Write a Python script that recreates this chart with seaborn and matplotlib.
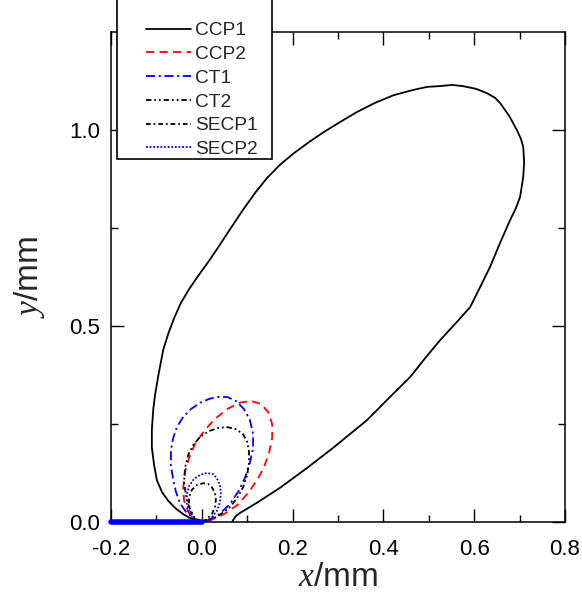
import numpy as np
import pandas as pd
import matplotlib
matplotlib.use("Agg")
import matplotlib.pyplot as plt
from matplotlib.lines import Line2D
from matplotlib.legend_handler import HandlerLine2D
import seaborn as sns

# ---- data ----
ccp1_x = [0.0, -0.013, -0.026, -0.041, -0.059, -0.074, -0.088, -0.099, -0.105, -0.110, -0.110,
          -0.107, -0.103, -0.096, -0.085, -0.074, -0.061, -0.046, -0.028, -0.008, 0.014, 0.038,
          0.064, 0.090, 0.117, 0.144, 0.172, 0.203, 0.236, 0.269, 0.304, 0.342, 0.381, 0.423,
          0.465, 0.496, 0.525, 0.551, 0.575, 0.604, 0.628, 0.646, 0.657, 0.677, 0.694, 0.703,
          0.708, 0.710, 0.708, 0.701, 0.692, 0.679, 0.657, 0.635, 0.613, 0.591, 0.560, 0.525,
          0.492, 0.459, 0.412, 0.364, 0.326, 0.289, 0.232, 0.172, 0.124, 0.084, 0.075, 0.069,
          0.067]
ccp1_y = [0.0, 0.005, 0.010, 0.020, 0.036, 0.054, 0.077, 0.107, 0.145, 0.189, 0.235,
          0.286, 0.324, 0.372, 0.439, 0.480, 0.520, 0.559, 0.594, 0.628, 0.663, 0.704,
          0.750, 0.795, 0.839, 0.878, 0.911, 0.941, 0.969, 0.995, 1.020, 1.046, 1.069, 1.089,
          1.102, 1.110, 1.112, 1.115, 1.112, 1.105, 1.094, 1.082, 1.069, 1.036, 1.000, 0.977,
          0.957, 0.918, 0.880, 0.829, 0.801, 0.770, 0.712, 0.651, 0.599, 0.548, 0.508, 0.464,
          0.418, 0.370, 0.316, 0.260, 0.224, 0.189, 0.138, 0.087, 0.051, 0.023, 0.015, 0.005,
          0.0]

ccp2_x = [0.0, -0.017, -0.030, -0.039, -0.041, -0.037, -0.028, -0.015, 0.005, 0.029, 0.056,
          0.082, 0.108, 0.130, 0.146, 0.155, 0.155, 0.148, 0.137, 0.122, 0.102, 0.078, 0.049,
          0.020, 0.003]
ccp2_y = [0.0, 0.008, 0.026, 0.054, 0.087, 0.128, 0.163, 0.199, 0.232, 0.263, 0.288,
          0.304, 0.309, 0.301, 0.281, 0.250, 0.214, 0.176, 0.140, 0.107, 0.074, 0.043, 0.020,
          0.005, 0.0]

ct1_x = [0.0, -0.019, -0.035, -0.048, -0.057, -0.063, -0.068, -0.068, -0.063, -0.055, -0.041,
         -0.024, -0.004, 0.016, 0.036, 0.056, 0.075, 0.093, 0.106, 0.113, 0.113, 0.106, 0.095,
         0.080, 0.060, 0.036, 0.014, 0.002]
ct1_y = [0.0, 0.010, 0.026, 0.048, 0.077, 0.107, 0.145, 0.184, 0.214, 0.242, 0.268,
         0.288, 0.304, 0.314, 0.319, 0.319, 0.309, 0.288, 0.260, 0.224, 0.189, 0.151, 0.112,
         0.077, 0.043, 0.018, 0.005, 0.0]

ct2_x = [0.0, -0.017, -0.028, -0.035, -0.039, -0.037, -0.030, -0.019, -0.004, 0.016, 0.036,
         0.056, 0.075, 0.091, 0.100, 0.104, 0.104, 0.100, 0.091, 0.078, 0.060, 0.036, 0.014, 0.0]
ct2_y = [0.0, 0.013, 0.038, 0.069, 0.102, 0.138, 0.171, 0.196, 0.217, 0.232, 0.240,
         0.242, 0.237, 0.224, 0.204, 0.179, 0.151, 0.120, 0.089, 0.061, 0.036, 0.015, 0.003, 0.0]

secp1_x = [0.0, -0.015, -0.024, -0.028, -0.028, -0.022, -0.011, 0.003, 0.014, 0.022, 0.029,
           0.031, 0.029, 0.022, 0.011, 0.0]
secp1_y = [0.0, 0.008, 0.023, 0.043, 0.064, 0.082, 0.094, 0.099, 0.097, 0.089, 0.074,
           0.056, 0.038, 0.020, 0.008, 0.0]

secp2_x = [0.0, -0.017, -0.028, -0.033, -0.033, -0.028, -0.017, -0.004, 0.011, 0.025, 0.033,
           0.040, 0.042, 0.040, 0.033, 0.020, 0.005, 0.0]
secp2_y = [0.0, 0.005, 0.023, 0.048, 0.071, 0.092, 0.110, 0.120, 0.125, 0.122, 0.112,
           0.094, 0.074, 0.051, 0.028, 0.010, 0.003, 0.0]

crack_x = [-0.2, 0.0]
crack_y = [0.0, 0.0]

series_names = ["CCP1", "CCP2", "CT1", "CT2", "SECP1", "SECP2"]
x_ticks = [-0.2, 0.0, 0.2, 0.4, 0.6, 0.8]
x_tick_labels = ["-0.2", "0.0", "0.2", "0.4", "0.6", "0.8"]
y_ticks = [0.0, 0.5, 1.0]
y_tick_labels = ["0.0", "0.5", "1.0"]

# ---- style ----
sns.set_theme(style="ticks")
plt.rcParams["font.family"] = ["Liberation Sans", "DejaVu Sans"]
plt.rcParams["axes.unicode_minus"] = False
plt.rcParams["mathtext.fontset"] = "custom"
plt.rcParams["mathtext.it"] = "Liberation Serif:italic"
plt.rcParams["mathtext.rm"] = "Liberation Sans"

fig = plt.figure(figsize=(5.82, 5.94), dpi=100)
W, H = 582, 594
L, R, T, B = 111, 565, 32, 522
ax = fig.add_axes([L / W, 1 - B / H, (R - L) / W, (B - T) / H])

lw = 1.3
styles = [
    dict(color="black", linestyle="-"),
    dict(color="#ff0000", linestyle=(0, (4.5, 3.0))),
    dict(color="#0000ff", linestyle=(0, (5.0, 2.0, 1.2, 2.0))),
    dict(color="black", linestyle=(0, (3.0, 1.6, 1.0, 1.6, 1.0, 1.6))),
    dict(color="black", linestyle=(0, (2.6, 1.6, 1.0, 1.6))),
    dict(color="#0000ff", linestyle=(0, (1.0, 1.0))),
]
xs = [ccp1_x, ccp2_x, ct1_x, ct2_x, secp1_x, secp2_x]
ys = [ccp1_y, ccp2_y, ct1_y, ct2_y, secp1_y, secp2_y]

for name, x, y, st in zip(series_names, xs, ys, styles):
    df = pd.DataFrame({"x": x, "y": y})
    sns.lineplot(data=df, x="x", y="y", sort=False, estimator=None, ax=ax,
                 label=name, lw=lw, **st)

sns.lineplot(x=crack_x, y=crack_y, sort=False, estimator=None, ax=ax,
             color="#0000ff", lw=4.0, label="_crack", solid_capstyle="round",
             clip_on=False, zorder=5)

ax.set_xlim(-0.2, 0.8)
ax.set_ylim(0.0, 1.25)
ax.set_xticks(x_ticks)
ax.set_xticklabels(x_tick_labels)
ax.set_yticks(y_ticks)
ax.set_yticklabels(y_tick_labels)
ax.set_xticks(np.arange(-0.1, 0.8, 0.2), minor=True)
ax.set_yticks([0.25, 0.75], minor=True)

for s in ax.spines.values():
    s.set_linewidth(1.1)
    s.set_color("black")
ax.tick_params(which="both", direction="in", top=True, right=True, width=1.0,
               color="black", labelsize=16, labelcolor="black")
ax.tick_params(which="major", length=9.5)
ax.tick_params(which="minor", length=5.0)
ax.tick_params(axis="x", which="major", pad=12)
ax.tick_params(axis="y", which="major", pad=8)

ax.set_xlabel(r"$x$/mm", fontsize=24, labelpad=2)
ax.set_ylabel(r"$y$/mm", fontsize=24, labelpad=16)

handles, labels = ax.get_legend_handles_labels()
keep = [(h, l) for h, l in zip(handles, labels) if not l.startswith("_")]
# blank spacer row at the top: the reference legend runs off the top edge
spacer = Line2D([], [], color="none")
leg_handles = [spacer] + [h for h, _ in keep]
leg_labels = [" "] + [l for _, l in keep]
leg_fs = 13.8
fs_px = leg_fs * 100 / 72
leg = ax.legend(leg_handles, leg_labels,
                loc="lower left",
                bbox_to_anchor=(117 / W, 1 - 159 / H, (272 - 117) / W, 0.3),
                bbox_transform=fig.transFigure, mode="expand",
                fontsize=leg_fs, frameon=True,
                fancybox=False, framealpha=1.0, edgecolor="black",
                handlelength=(28 + 45) / fs_px, handletextpad=0.2,
                labelspacing=0.33, borderpad=0.05, borderaxespad=0.0,
                handler_map={Line2D: HandlerLine2D(xpad=28 / fs_px)})
leg.get_frame().set_linewidth(1.2)
leg.set_zorder(10)
leg.set_clip_on(False)

fig.savefig("out.png", dpi=100, facecolor="white")
